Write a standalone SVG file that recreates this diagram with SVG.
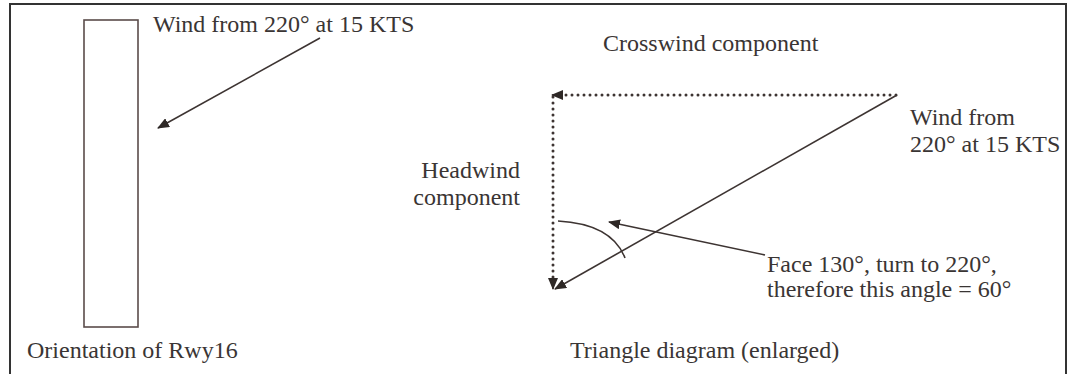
<svg xmlns="http://www.w3.org/2000/svg" width="1071" height="374" viewBox="0 0 1071 374">
<defs>
<style>
text{font-family:"Liberation Serif","Times New Roman",serif;font-size:24px;fill:#3a3534}
.ln{stroke:#3d3432;stroke-width:1.6;fill:none}
.dot{stroke:#3d3432;stroke-width:3;fill:none;stroke-linecap:round;stroke-dasharray:0 6}
</style>
<marker id="ah" viewBox="0 0 12 10" refX="11" refY="5" markerWidth="12" markerHeight="10" markerUnits="userSpaceOnUse" orient="auto">
<path d="M0,0 L12,5 L0,10 Z" fill="#2e2826"/>
</marker>
</defs>
<rect x="0" y="0" width="1071" height="374" fill="#fff"/>
<rect x="10" y="4" width="1056" height="380" fill="none" stroke="#333" stroke-width="2"/>
<g id="runway">
<rect x="84" y="20" width="54" height="307" fill="none" stroke="#5a4c4a" stroke-width="1.6"/>
<text x="27" y="358">Orientation of Rwy16</text>
</g>
<g id="wind-label-left"><text x="153" y="32">Wind from 220° at 15 KTS</text></g>
<g id="crosswind-label"><text x="603" y="51">Crosswind component</text></g>
<g id="wind-label-right"><text x="910" y="125">Wind from</text><text x="910" y="152">220° at 15 KTS</text></g>
<g id="headwind-label"><text x="520" y="178" text-anchor="end">Headwind</text><text x="520" y="205" text-anchor="end">component</text></g>
<g id="angle-label"><text x="767" y="272">Face 130°, turn to 220°,</text><text x="767" y="297">therefore this angle = 60°</text></g>
<g id="triangle-caption"><text x="570" y="358">Triangle diagram (enlarged)</text></g>
<g id="connectors">
<line class="ln" x1="320" y1="38" x2="158" y2="128" marker-end="url(#ah)"/>
<line class="dot" x1="896" y1="95" x2="562" y2="95"/>
<line class="ln" x1="562" y1="95" x2="552" y2="95" marker-end="url(#ah)"/>
<line class="dot" x1="553" y1="97" x2="553" y2="280"/>
<line class="ln" x1="553" y1="279" x2="553" y2="289" marker-end="url(#ah)"/>
<line class="ln" x1="897" y1="95" x2="555" y2="289" marker-end="url(#ah)"/>
<path class="ln" d="M558,221 Q612,224 625,258"/>
<line class="ln" x1="765" y1="255" x2="609" y2="222" marker-end="url(#ah)"/>
</g>
</svg>
